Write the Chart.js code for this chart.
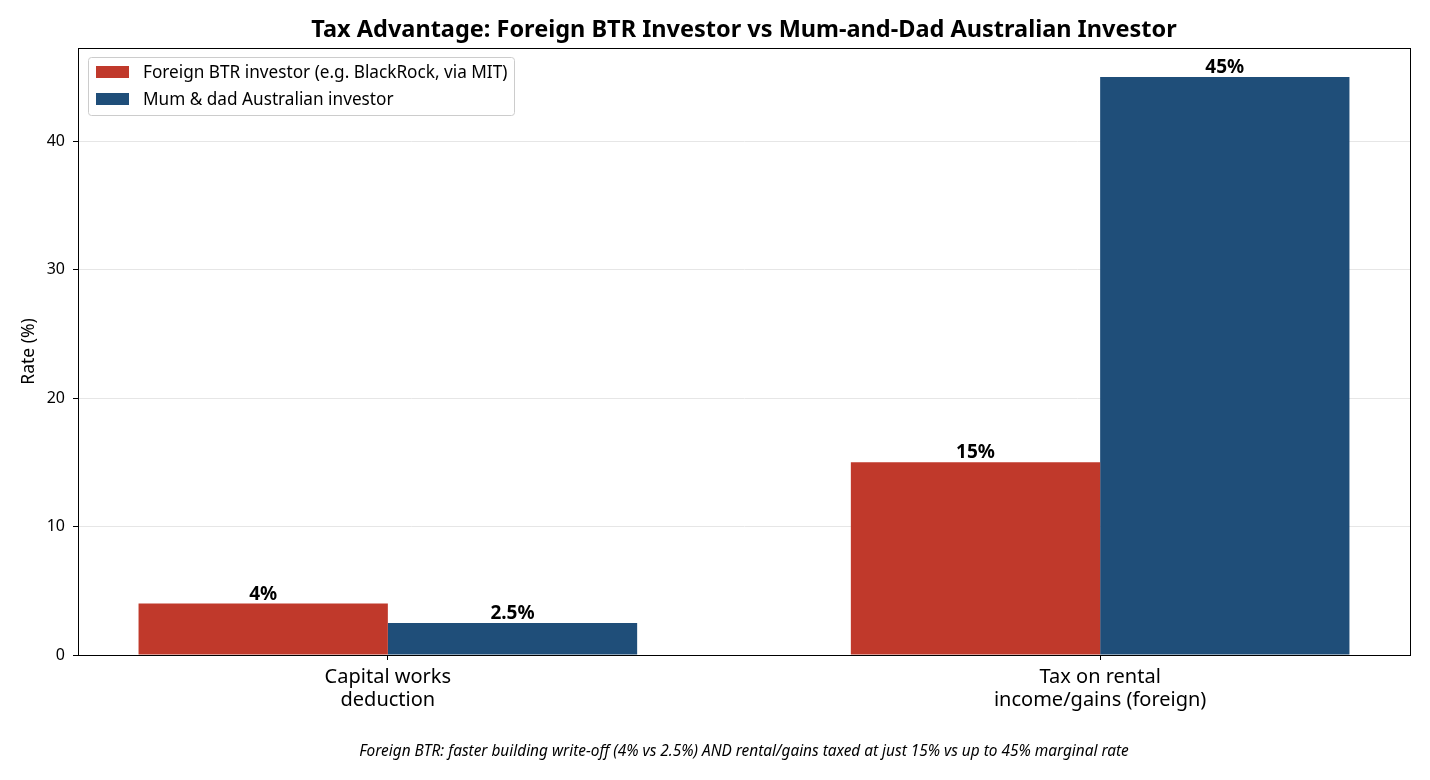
<!DOCTYPE html>
<html>
<head>
<meta charset="utf-8">
<script src="https://cdn.jsdelivr.net/npm/chart.js@4.4.1/dist/chart.umd.min.js"></script>
<style>
  html, body { margin: 0; padding: 0; background: #ffffff; }
  #wrap { width: 1430px; height: 780px; position: relative; }
</style>
</head>
<body>
<div id="wrap"><canvas id="taxChart" width="1430" height="780"></canvas></div>
<script>
// data
const categories = [['Capital works', 'deduction'], ['Tax on rental', 'income/gains (foreign)']];
const seriesNames = ['Foreign BTR investor (e.g. BlackRock, via MIT)', 'Mum & dad Australian investor'];
const foreignRates = [4, 15];
const mumDadRates = [2.5, 45];
const rateLabels = [['4%', '15%'], ['2.5%', '45%']];
const yTicks = [0, 10, 20, 30, 40];

const chartTitle = 'Tax Advantage: Foreign BTR Investor vs Mum-and-Dad Australian Investor';
const footNote = 'Foreign BTR: faster building write-off (4% vs 2.5%) AND rental/gains taxed at just 15% vs up to 45% marginal rate';
const yTitle = 'Rate (%)';

const colors = ['#c0392b', '#1f4e79'];
const FONT = "'Noto Sans', 'DejaVu Sans', sans-serif";

// extras drawn on top: frame, value labels, legend, titles
const decorPlugin = {
    id: 'decor',
    afterDraw(chart) {
        const ctx = chart.ctx;
        const a = chart.chartArea;
        ctx.save();

        // full frame around the plot
        ctx.strokeStyle = '#000';
        ctx.lineWidth = 1;
        ctx.strokeRect(Math.round(a.left) + 0.5, Math.round(a.top) + 0.5, Math.round(a.right - a.left), Math.round(a.bottom - a.top));

        // value labels above bars
        ctx.fillStyle = '#000';
        ctx.font = 'bold 19px ' + FONT;
        ctx.textAlign = 'center';
        ctx.textBaseline = 'alphabetic';
        chart.data.datasets.forEach((ds, di) => {
            chart.getDatasetMeta(di).data.forEach((bar, i) => {
                ctx.fillText(rateLabels[di][i], bar.x, bar.y - 4);
            });
        });

        // title
        const cx = (a.left + a.right) / 2;
        ctx.font = 'bold 23.5px ' + FONT;
        ctx.textBaseline = 'middle';
        ctx.fillText(chartTitle, cx, 30);

        // foot note
        ctx.font = 'italic 15.4px ' + FONT;
        ctx.fillText(footNote, cx, 752);

        // y title
        ctx.save();
        ctx.translate(29, (a.top + a.bottom) / 2);
        ctx.rotate(-Math.PI / 2);
        ctx.font = '17.5px ' + FONT;
        ctx.fillText(yTitle, 0, 0);
        ctx.restore();

        // legend box
        const lx = a.left + 10, ly = a.top + 9, lw = 426, lh = 58;
        ctx.fillStyle = 'rgba(255,255,255,0.8)';
        ctx.strokeStyle = '#cccccc';
        ctx.beginPath();
        ctx.roundRect(lx + 0.5, ly + 0.5, lw, lh, 3);
        ctx.fill();
        ctx.stroke();
        ctx.font = '17.2px ' + FONT;
        ctx.textAlign = 'left';
        seriesNames.forEach((name, i) => {
            const rowY = ly + 15 + i * 27;
            ctx.fillStyle = colors[i];
            ctx.fillRect(lx + 8, rowY - 6, 33, 12);
            ctx.fillStyle = '#000';
            ctx.fillText(name, lx + 55, rowY + 1);
        });

        ctx.restore();
    }
};

const ctx = document.getElementById('taxChart').getContext('2d');
new Chart(ctx, {
    type: 'bar',
    data: {
        datasets: [
            {
                label: seriesNames[0],
                data: foreignRates.map((v, i) => ({ x: i, y: v })),
                backgroundColor: colors[0],
                borderWidth: 0
            },
            {
                label: seriesNames[1],
                data: mumDadRates.map((v, i) => ({ x: i, y: v })),
                backgroundColor: colors[1],
                borderWidth: 0
            }
        ]
    },
    options: {
        responsive: false,
        animation: false,
        devicePixelRatio: 1,
        layout: { padding: { left: 0, right: 20, top: 48, bottom: 0 } },
        datasets: { bar: { categoryPercentage: 0.7, barPercentage: 1.0 } },
        plugins: {
            legend: { display: false },
            title: { display: false },
            tooltip: { enabled: false }
        },
        scales: {
            x: {
                type: 'linear',
                offset: false,
                min: -0.435,
                max: 1.435,
                afterBuildTicks: (s) => { s.ticks = categories.map((c, i) => ({ value: i })); },
                afterFit: (s) => { s.height = 125; },
                grid: { offset: false, drawOnChartArea: false, drawTicks: true, tickLength: 5, tickColor: '#000' },
                border: { color: '#000', width: 1 },
                ticks: {
                    autoSkip: false,
                    maxRotation: 0,
                    padding: 6,
                    color: '#000',
                    font: { family: FONT, size: 20, lineHeight: 1.13 },
                    callback: (v, i) => categories[i]
                }
            },
            y: {
                min: 0,
                max: 47.25,
                afterBuildTicks: (s) => { s.ticks = yTicks.map(v => ({ value: v })); },
                afterFit: (s) => { s.width = 78; },
                grid: { color: '#e6e6e6', lineWidth: 1, drawTicks: true, tickLength: 5, tickColor: '#000' },
                border: { color: '#000', width: 1 },
                ticks: {
                    padding: 8,
                    color: '#000',
                    font: { family: FONT, size: 16 },
                    callback: (v) => String(v)
                }
            }
        }
    },
    plugins: [decorPlugin]
});
</script>
</body>
</html>
